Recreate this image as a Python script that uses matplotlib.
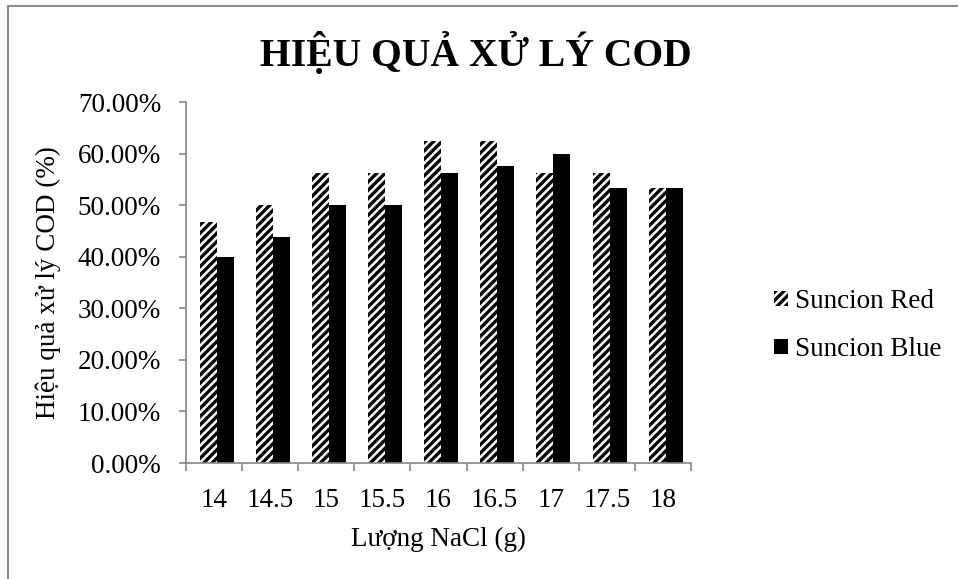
import matplotlib
matplotlib.use("Agg")
import matplotlib.pyplot as plt
import numpy as np
from matplotlib.lines import Line2D
from matplotlib.ticker import FuncFormatter, FixedLocator

categories = ["14", "14.5", "15", "15.5", "16", "16.5", "17", "17.5", "18"]
red_values = [0.4667, 0.50, 0.5625, 0.5625, 0.625, 0.625, 0.5625, 0.5625, 0.5333]
blue_values = [0.40, 0.4375, 0.50, 0.50, 0.5625, 0.575, 0.60, 0.5333, 0.5333]
series_names = ["Suncion Red", "Suncion Blue"]

plt.rcParams['font.family'] = ['Liberation Serif', 'DejaVu Serif']
plt.rcParams['hatch.linewidth'] = 2.4
plt.rcParams['hatch.color'] = 'black'

fig = plt.figure(figsize=(9.58, 5.79), dpi=100)
ax = fig.add_axes([0.1942, 0.2003, 0.527, 0.6235])

x = np.arange(len(categories))
w = 0.303
ax.bar(x - w / 2 + 0.05, red_values, width=w, color='white', edgecolor='black',
       hatch='////', linewidth=0, label=series_names[0])
ax.bar(x + w / 2 + 0.05, blue_values, width=w, color='black', edgecolor='black',
       linewidth=0, label=series_names[1])

ax.set_xlim(-0.5, len(categories) - 0.5)
ax.set_ylim(0, 0.70)
ax.set_yticks(np.arange(0, 0.701, 0.10))
ax.yaxis.set_major_formatter(FuncFormatter(lambda v, p: f"{v*100:.2f}%"))
ax.set_xticks(x)
ax.set_xticklabels(categories)
ax.xaxis.set_minor_locator(FixedLocator(np.arange(-0.5, len(categories), 1.0)))

gray = '#868686'
for s in ['top', 'right']:
    ax.spines[s].set_visible(False)
for s in ['left', 'bottom']:
    ax.spines[s].set_color(gray)
    ax.spines[s].set_linewidth(1.2)

fs = 19.5
ax.tick_params(axis='y', length=5, width=1.2, color=gray, pad=13, labelsize=fs)
ax.tick_params(axis='x', which='major', length=0, pad=18, labelsize=fs)
ax.tick_params(axis='x', which='minor', length=6, width=1.2, color=gray)

ax.set_xlabel("Lượng NaCl (g)", fontsize=fs, labelpad=10)
ax.set_ylabel("Hiệu quả xử lý COD (%)", fontsize=fs, labelpad=12)

fig.text(0.497, 0.908, "HIỆU QUẢ XỬ LÝ COD", ha='center', va='center',
         fontsize=28.5, fontweight='bold')

leg = fig.legend(loc='center left', bbox_to_anchor=(0.797, 0.438), frameon=False,
                 fontsize=fs, handlelength=0.5, handleheight=0.5, handletextpad=0.25,
                 labelspacing=0.85, borderaxespad=0)

# chart frame (left and top edges visible)
fig.add_artist(Line2D([8/958, 8/958], [0, 1 - 6/579], transform=fig.transFigure,
                      color='#8c8c8c', lw=1.5))
fig.add_artist(Line2D([8/958, 1], [1 - 6/579, 1 - 6/579], transform=fig.transFigure,
                      color='#8c8c8c', lw=1.5))

fig.savefig("out.png", dpi=100)
